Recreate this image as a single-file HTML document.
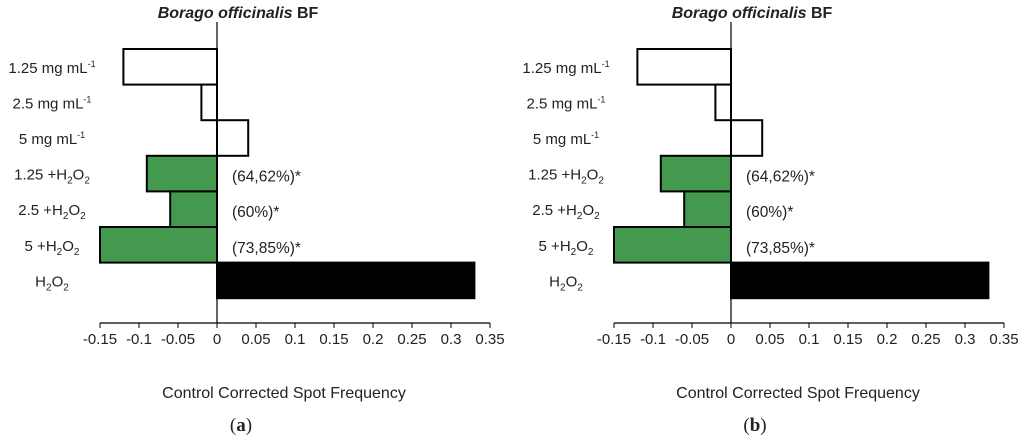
<!DOCTYPE html>
<html><head><meta charset="utf-8"><style>
body{margin:0;background:#fff;width:1024px;height:439px;overflow:hidden}
svg text{font-family:"Liberation Sans",sans-serif;fill:#222}
</style></head><body>
<svg id="c" width="1024" height="439" xmlns="http://www.w3.org/2000/svg"></svg>
<script>
const categories=["1.25 mg mL","2.5 mg mL","5 mg mL","1.25 +H2O2","2.5 +H2O2","5 +H2O2","H2O2"];
const values=[-0.12,-0.02,0.04,-0.09,-0.06,-0.15,0.33];
const fills=["#fff","#fff","#fff","#439a4e","#439a4e","#439a4e","#000"];
const annotations=["","","","(64,62%)*","(60%)*","(73,85%)*",""];
const ticks=[-0.15,-0.1,-0.05,0,0.05,0.1,0.15,0.2,0.25,0.3,0.35];
const tickLabels=["-0.15","-0.1","-0.05","0","0.05","0.1","0.15","0.2","0.25","0.3","0.35"];
const panels=["a","b"];
const svg=document.getElementById('c');
const NS="http://www.w3.org/2000/svg";
function mk(t,a,p){const e=document.createElementNS(NS,t);for(const k in a)e.setAttribute(k,a[k]);(p||svg).appendChild(e);return e;}
function labelHTML(c){
  if(c.endsWith("mg mL")) return c+'<tspan font-size="9" dy="-6">-1</tspan>';
  return c.replace(/H2O2/,'H<tspan font-size="10" dy="4">2</tspan><tspan dy="-4">O</tspan><tspan font-size="10" dy="4">2</tspan>');
}
panels.forEach((p,pi)=>{
  const off=pi*514;
  const x0=217+off, k=780;
  const X=v=>x0+v*k;
  const top=49, band=35.6, axisY=323;
  const g=mk('g',{});
  
  
  const t=mk('text',{x:x0+21,y:18,'text-anchor':'middle','font-size':'16','font-weight':'bold'},g);
  t.innerHTML='<tspan font-style="italic">Borago</tspan>  <tspan font-style="italic">officinalis</tspan>  BF';
  
  
  values.forEach((v,i)=>{
    const y=top+i*band;
    const r=mk('rect',{x:Math.min(X(0),X(v)),y:y,width:Math.abs(X(v)-X(0)),height:band,fill:fills[i],stroke:'#000','stroke-width':'2'},g);
    
    
    const l=mk('text',{x:52+off,y:y+band/2+6,'text-anchor':'middle','font-size':'15'},g);
    l.innerHTML=labelHTML(categories[i]);
    
    
    if(annotations[i]){
      const a=mk('text',{x:X(0)+15,y:y+band/2+8,'font-size':'15.5'},g);
      a.textContent=annotations[i];
      
      
    }
  });
  const zl=mk('line',{x1:X(0),x2:X(0),y1:22,y2:axisY,stroke:'#000','stroke-width':'1.2'},g);
  
  
  const ax=mk('line',{x1:X(ticks[0]),x2:X(ticks[ticks.length-1]),y1:axisY,y2:axisY,stroke:'#000','stroke-width':'1.2'},g);
  
  
  ticks.forEach((tv,i)=>{
    const tk=mk('line',{x1:X(tv),x2:X(tv),y1:axisY,y2:axisY+5,stroke:'#000','stroke-width':'1'},g);
    
    
    const tl=mk('text',{x:X(tv),y:axisY+21,'text-anchor':'middle','font-size':'15'},g);
    tl.textContent=tickLabels[i];
    
    
  });
  const xt=mk('text',{x:284+off,y:398,'text-anchor':'middle','font-size':'16'},g);
  xt.textContent='Control Corrected Spot Frequency';
  
  
  const pl=mk('text',{x:241+off,y:431,'text-anchor':'middle','font-size':'19'},g);
  pl.innerHTML='(<tspan font-weight="bold">'+p+'</tspan>)';
  pl.setAttribute('style','font-family:"Liberation Serif",serif');
  
  
});
</script>
</body></html>
